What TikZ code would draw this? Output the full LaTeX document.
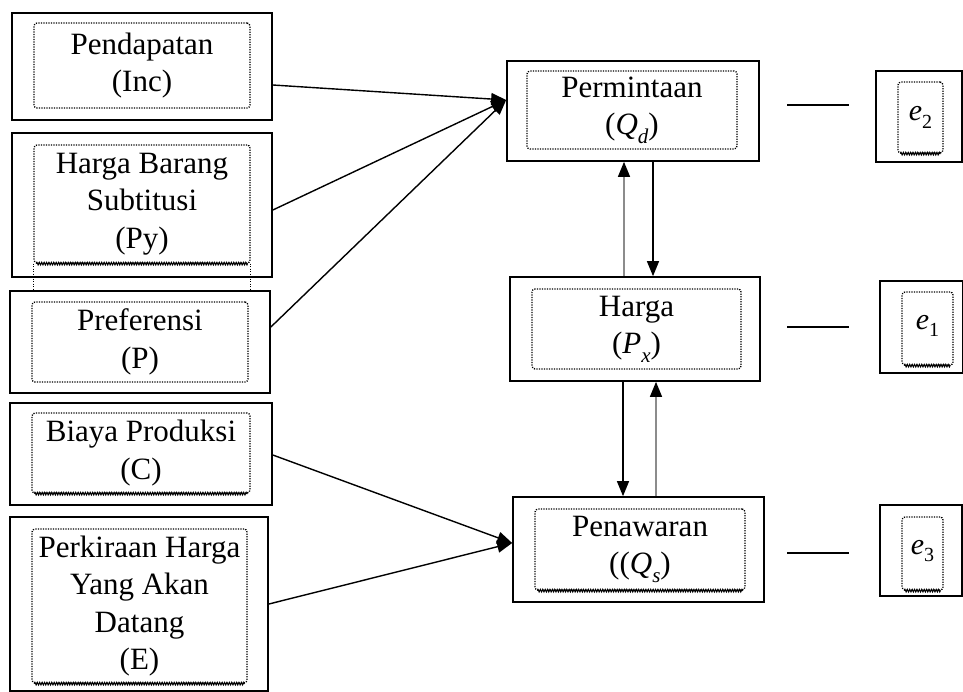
\documentclass[tikz,border=0pt]{standalone}
\usepackage{fontspec}
\setmainfont{Liberation Serif}
\usetikzlibrary{arrows.meta,decorations.pathmorphing}
\newcommand{\vsub}[2]{\textit{#1}\raisebox{-0.28em}{\fontsize{21}{21}\selectfont\textit{#2}}}
\newcommand{\esub}[1]{\textit{e}\raisebox{-0.25em}{\fontsize{20}{20}\selectfont #1}}
\begin{document}
\begin{tikzpicture}[x=1pt,y=-1pt,
  outer/.style={draw=black,line width=1.7pt,inner sep=0pt},
  inbox/.style={draw=black,line width=1.3pt,dash pattern=on 1.2pt off 1.3pt,rounded corners=3pt,inner sep=0pt,align=center,font=\fontsize{31}{37.5}\selectfont},
  ebox/.style={inbox,font=\fontsize{30}{32}\selectfont},
  wavy/.style={draw=black,line width=1pt,decorate,decoration={zigzag,amplitude=1.3pt,segment length=2.4pt}},
  dotline/.style={draw=black,line width=1.3pt,dash pattern=on 1.2pt off 1.3pt},
  arr/.style={line width=1.4pt,-{Triangle[length=15pt,width=12pt]}},
  garr/.style={line width=1.4pt,draw=black!45,-{Triangle[length=15pt,width=12pt,color=black]}},
  eline/.style={line width=1.4pt}
]
\useasboundingbox (0,0) rectangle (963,691);

% left boxes
\node[outer,minimum width=260pt,minimum height=107pt] (L1) at (142,66.5) {};
\node[inbox,minimum width=216pt,minimum height=85pt] (in1) at (142,65.5) {Pendapatan\\(Inc)};

\node[outer,minimum width=260pt,minimum height=144pt] (L2) at (142,205) {};
\node[inbox,minimum width=216pt,minimum height=118pt] (in2) at (142,204) {Harga Barang\\Subtitusi\\(Py)};

\node[outer,minimum width=260pt,minimum height=102pt] (L3) at (140,342) {};
\node[inbox,minimum width=216pt,minimum height=80pt] (in3) at (140,342) {Preferensi\\(P)};

\node[outer,minimum width=262pt,minimum height=102pt] (L4) at (141,454) {};
\node[inbox,minimum width=218pt,minimum height=80pt] (in4) at (141,453) {Biaya Produksi\\(C)};

\node[outer,minimum width=258pt,minimum height=174pt] (L5) at (139,604) {};
\node[inbox,minimum width=215pt,minimum height=154pt] (in5) at (139.5,606) {Perkiraan Harga\\Yang Akan\\Datang\\(E)};

% middle boxes
\node[outer,minimum width=252pt,minimum height=100pt] (M1) at (633,111) {};
\node[inbox,minimum width=210pt,minimum height=78pt] (im1) at (632,110) {Permintaan\\(\vsub{Q}{d})};

\node[outer,minimum width=250pt,minimum height=104pt] (M2) at (635,329) {};
\node[inbox,minimum width=209pt,minimum height=80pt] (im2) at (636.5,329) {Harga\\(\vsub{P}{x})};

\node[outer,minimum width=251pt,minimum height=105pt] (M3) at (638.5,549.5) {};
\node[inbox,minimum width=210pt,minimum height=81pt] (im3) at (640,549.5) {Penawaran\\((\vsub{Q}{s})};

% error boxes
\node[outer,minimum width=86pt,minimum height=91pt] (E2) at (919,116.5) {};
\node[ebox,minimum width=45pt,minimum height=71pt] (ie2) at (920.5,117.5) {\raisebox{8pt}{\esub{2}}};

\node[outer,minimum width=83pt,minimum height=92pt] (E1) at (921.5,327) {};
\node[ebox,minimum width=51pt,minimum height=73pt] (ie1) at (927.5,328.5) {\raisebox{13pt}{\esub{1}}};

\node[outer,minimum width=82pt,minimum height=91pt] (E3) at (921,550.5) {};
\node[ebox,minimum width=41pt,minimum height=73pt] (ie3) at (922.5,553.5) {\raisebox{13pt}{\esub{3}}};

% wavy bottoms
\foreach \n in {in2,in4,in5,im3,ie1,ie2,ie3}
  \draw[wavy] ([xshift=3pt]\n.south west) -- ([xshift=-3pt]\n.south east);
\draw[dotline] (in2.south west) -- ++(0,26);
\draw[dotline] (in2.south east) -- ++(0,26);

% dashes
\coordinate (d2a) at (787,105); \coordinate (d2b) at (849,105);
\coordinate (d1a) at (787,327); \coordinate (d1b) at (849,327);
\coordinate (d3a) at (787,553); \coordinate (d3b) at (849,553);
\draw[eline] (d2a) -- (d2b);
\draw[eline] (d1a) -- (d1b);
\draw[eline] (d3a) -- (d3b);

% converging arrows
\coordinate (dIn) at ([yshift=11pt]M1.west);
\coordinate (sIn) at ([yshift=6.5pt]M3.west);
\draw[arr] ([yshift=-18.5pt]L1.east) -- (dIn);
\draw[arr] ([yshift=-5pt]L2.east) -- (dIn);
\draw[arr] ([yshift=15pt]L3.east) -- (dIn);
\draw[arr] ([yshift=-1pt]L4.east) -- (sIn);
\draw[arr] (L5.east) -- (sIn);

% vertical arrows
\draw[garr] ([xshift=-11pt]M2.north) -- ([xshift=-11pt]M2.north |- M1.south);
\draw[arr] ([xshift=20pt]M1.south) -- ([xshift=20pt]M1.south |- M2.north);
\draw[arr] ([xshift=-12pt]M2.south) -- ([xshift=-12pt]M2.south |- M3.north);
\draw[garr] ([xshift=21pt]M2.south |- M3.north) -- ([xshift=21pt]M2.south);
\end{tikzpicture}
\end{document}
